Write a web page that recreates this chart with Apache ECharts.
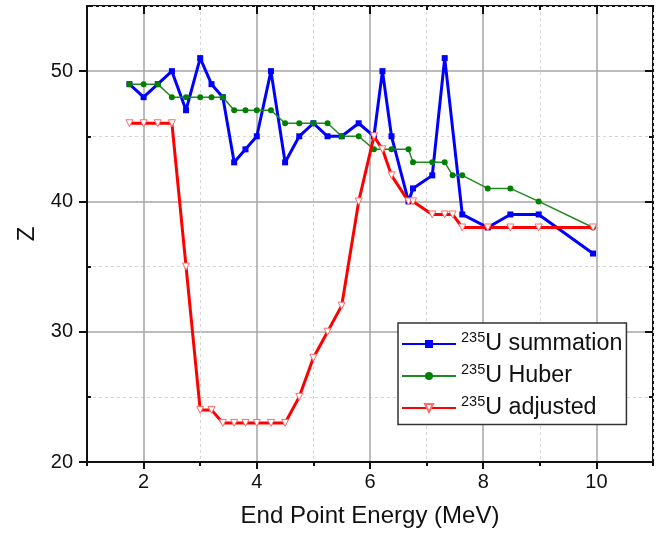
<!DOCTYPE html>
<html>
<head>
<meta charset="utf-8">
<script src="https://cdn.jsdelivr.net/npm/echarts@6/dist/echarts.min.js"></script>
<style>html,body{margin:0;padding:0;background:#fff}#c{width:660px;height:534px}</style>
</head>
<body>
<div id="c"></div>
<script>
const supText = '235';
const seriesNames = ['U summation', 'U Huber', 'U adjusted'];
const summationE = [1.75,2.0,2.25,2.5,2.75,3.0,3.2,3.4,3.6,3.8,4.0,4.25,4.5,4.75,5.0,5.25,5.5,5.8,6.07,6.22,6.38,6.68,6.76,7.1,7.32,7.63,8.08,8.48,8.98,9.94];
const summationZ = [49,48,49,50,47,51,49,48,43,44,45,50,43,45,46,45,45,46,45,50,45,40,41,42,51,39,38,39,39,36];
const huberE = [1.75,2.0,2.25,2.5,2.75,3.0,3.2,3.4,3.6,3.8,4.0,4.25,4.5,4.75,5.0,5.25,5.5,5.8,6.07,6.38,6.68,6.76,7.1,7.32,7.46,7.63,8.08,8.48,8.98,9.94];
const huberZ = [49,49,49,48,48,48,48,48,47,47,47,47,46,46,46,46,45,45,44,44,44,43,43,43,42,42,41,41,40,38];
const adjustedE = [1.75,2.0,2.25,2.5,2.75,3.0,3.2,3.4,3.6,3.8,4.0,4.25,4.5,4.75,5.0,5.25,5.5,5.8,6.07,6.22,6.38,6.68,6.76,7.1,7.32,7.46,7.63,8.08,8.48,8.98,9.94];
const adjustedZ = [46,46,46,46,35,24,24,23,23,23,23,23,23,25,28,30,32,40,45,44,42,40,40,39,39,39,38,38,38,38,38];
const xMajor = [2,4,6,8,10];
const xMinor = [1,3,5,7,9,11];
const yMajor = [20,30,40,50];
const yMinor = [25,35,45,55];

const zip = (a, b) => a.map((v, i) => [v, b[i]]);
const FONT = 'Liberation Sans, Arial, sans-serif';
const majorGrid = { show: true, lineStyle: { color: '#a6a6a6', width: 1.5, type: 'solid' } };
const minorGrid = { show: true, lineStyle: { color: '#d6d6d6', width: 1, type: [3, 3] } };

function xAx(opts) {
  return Object.assign({
    type: 'value', min: 1, max: 11, position: 'bottom',
    axisLine: { show: false }, axisLabel: { show: false }, splitLine: { show: false },
    axisTick: { show: false }
  }, opts);
}
function yAx(opts) {
  return Object.assign({
    type: 'value', min: 20, max: 55, position: 'left',
    axisLine: { show: false }, axisLabel: { show: false }, splitLine: { show: false },
    axisTick: { show: false }
  }, opts);
}

const chart = echarts.init(document.getElementById('c'));
chart.setOption({
  animation: false,
  backgroundColor: '#fff',
  textStyle: { fontFamily: FONT },
  grid: { left: 87, right: 7, top: 6, bottom: 72, show: true, borderColor: '#111', borderWidth: 2, backgroundColor: 'transparent' },
  xAxis: [
    xAx({
      name: 'End Point Energy (MeV)', nameLocation: 'middle', nameGap: 42,
      nameTextStyle: { fontSize: 24, color: '#111', fontFamily: FONT },
      axisLine: { show: true, onZero: false, lineStyle: { color: '#111', width: 2 } },
      axisTick: { show: true, customValues: xMajor, length: 7, lineStyle: { color: '#111', width: 2 } },
      axisLabel: { show: true, customValues: xMajor, fontSize: 20, color: '#111', margin: 10, fontFamily: FONT },
      splitLine: majorGrid
    }),
    xAx({
      axisTick: { show: true, customValues: xMinor, length: 4, lineStyle: { color: '#111', width: 2 } },
      splitLine: minorGrid
    }),
    xAx({
      position: 'top',
      axisTick: { show: true, inside: true, customValues: xMajor, length: 8, lineStyle: { color: '#111', width: 2 } }
    }),
    xAx({
      position: 'top',
      axisTick: { show: true, inside: true, customValues: xMinor, length: 4, lineStyle: { color: '#111', width: 2 } }
    })
  ],
  yAxis: [
    yAx({
      name: 'Z', nameLocation: 'middle', nameGap: 38,
      nameTextStyle: { fontSize: 24, color: '#111', fontFamily: FONT },
      axisLine: { show: true, onZero: false, lineStyle: { color: '#111', width: 2 } },
      axisTick: { show: true, customValues: yMajor, length: 8, lineStyle: { color: '#111', width: 2 } },
      axisLabel: { show: true, customValues: yMajor, fontSize: 20, color: '#111', margin: 14, fontFamily: FONT },
      splitLine: majorGrid
    }),
    yAx({
      axisTick: { show: true, inside: true, customValues: yMinor, length: 4, lineStyle: { color: '#111', width: 2 } },
      splitLine: minorGrid
    }),
    yAx({
      position: 'right',
      axisTick: { show: true, inside: true, customValues: yMajor, length: 8, lineStyle: { color: '#111', width: 2 } }
    }),
    yAx({
      position: 'right',
      axisTick: { show: true, inside: true, customValues: yMinor, length: 4, lineStyle: { color: '#111', width: 2 } }
    })
  ],
  legend: {
    orient: 'vertical', left: 398, top: 323,
    itemWidth: 54, itemHeight: 10, itemGap: 6.5,
    padding: [7, 4, 5, 3],
    borderColor: '#333', borderWidth: 1.5, backgroundColor: '#fff', borderRadius: 0,
    data: seriesNames,
    formatter: name => '{sup|' + supText + '}{t|' + name + '}',
    textStyle: {
      fontFamily: FONT, color: '#111',
      rich: {
        sup: { fontSize: 14.5, lineHeight: 15, verticalAlign: 'top', fontFamily: FONT, color: '#111' },
        t: { fontSize: 23.3, lineHeight: 28, fontFamily: FONT, color: '#111' }
      }
    }
  },
  series: [
    {
      name: seriesNames[0], type: 'line', data: zip(summationE, summationZ),
      symbol: 'rect', symbolSize: 6, color: '#0000ff',
      lineStyle: { color: '#0000ff', width: 3 },
      itemStyle: { color: '#0000ff' }, z: 2
    },
    {
      name: seriesNames[1], type: 'line', data: zip(huberE, huberZ),
      symbol: 'circle', symbolSize: 6, color: '#008000',
      lineStyle: { color: '#1f8a1f', width: 1.5 },
      itemStyle: { color: '#008000' }, z: 3
    },
    {
      name: seriesNames[2], type: 'line', data: zip(adjustedE, adjustedZ),
      symbol: 'triangle', symbolRotate: 180, symbolSize: 7, color: '#ff0000',
      lineStyle: { color: '#ff0000', width: 3 },
      itemStyle: { color: '#ffffff', borderColor: '#ff6a6a', borderWidth: 1 }, z: 4
    }
  ]
});
</script>
</body>
</html>
